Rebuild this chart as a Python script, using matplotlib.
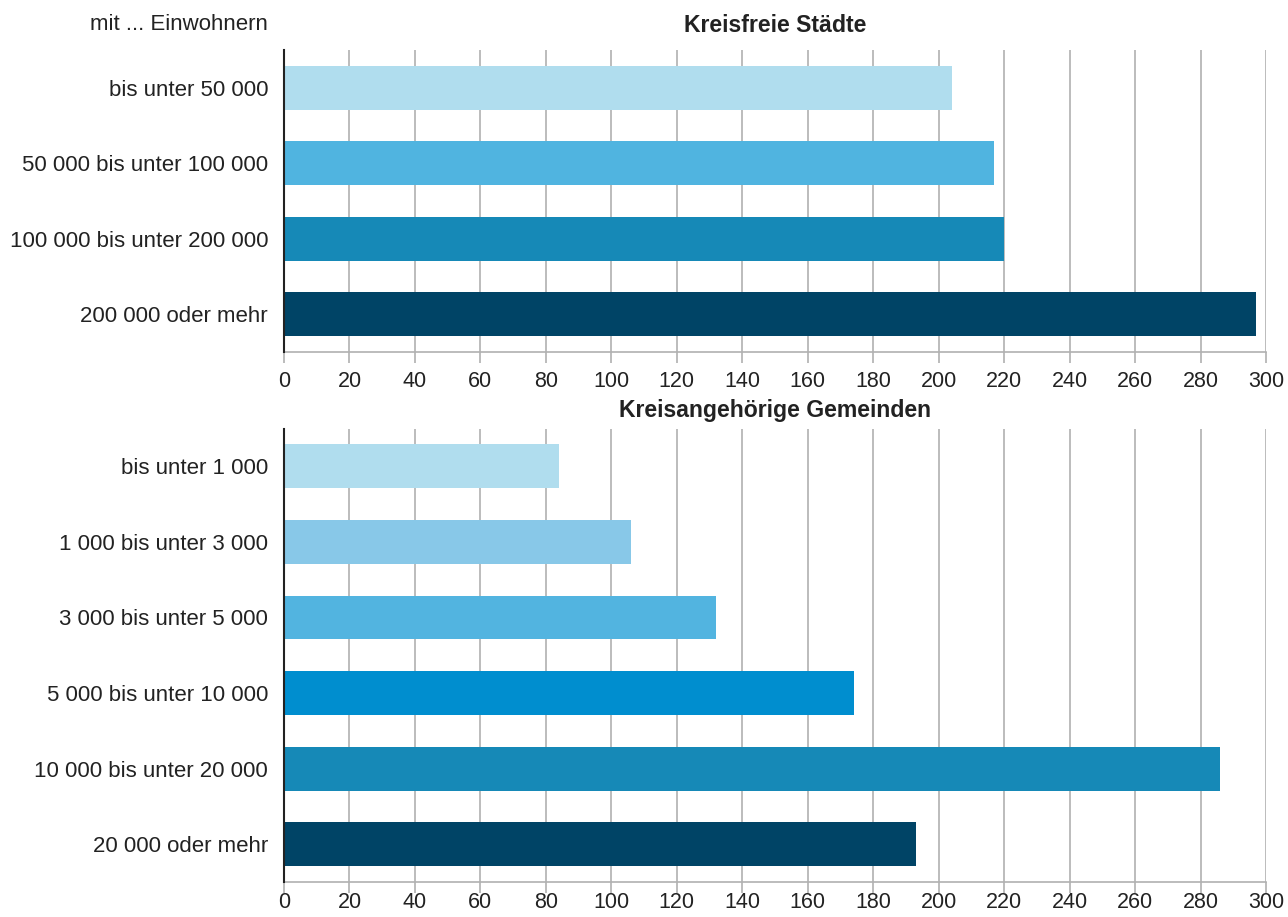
import matplotlib
matplotlib.use("Agg")
import matplotlib.pyplot as plt

plt.rcParams['font.family'] = ['Liberation Sans', 'DejaVu Sans']

top_title = "Kreisfreie Städte"
top_categories = ["bis unter 50 000", "50 000 bis unter 100 000",
                  "100 000 bis unter 200 000", "200 000 oder mehr"]
top_values = [204, 217, 220, 297]
top_colors = ["#b0ddee", "#50b4e0", "#1689b7", "#004466"]

bot_title = "Kreisangehörige Gemeinden"
bot_categories = ["bis unter 1 000", "1 000 bis unter 3 000", "3 000 bis unter 5 000",
                  "5 000 bis unter 10 000", "10 000 bis unter 20 000", "20 000 oder mehr"]
bot_values = [84, 106, 132, 174, 286, 193]
bot_colors = ["#b0ddee", "#88c8e8", "#52b4e0", "#008ecf", "#1689b7", "#004466"]

x_ticks = list(range(0, 301, 20))

W, H = 1288, 917
fig = plt.figure(figsize=(W / 100, H / 100), dpi=100)
left = 284 / W
width = (1266 - 284) / W
ax1 = fig.add_axes([left, 1 - 352 / H, width, (352 - 50) / H])
ax2 = fig.add_axes([left, 1 - 882 / H, width, (882 - 428.5) / H])

FS = 16
TFS = 15.5

def style(ax, cats, vals, cols, xpad):
    y = list(range(len(cats)))
    ax.barh(y, vals, height=0.58, color=cols, zorder=2)
    ax.set_ylim(len(cats) - 0.5, -0.5)
    ax.set_xlim(0, 300)
    ax.set_yticks(y)
    ax.set_yticklabels(cats, fontsize=FS, color="#222222")
    ax.set_xticks(x_ticks)
    ax.set_xticklabels([str(t) for t in x_ticks], fontsize=TFS, color="#222222")
    ax.tick_params(axis='y', length=0, pad=11.5)
    ax.tick_params(axis='x', length=8, width=1.2, color="#b0b0b0", pad=xpad)
    ax.grid(axis='x', color="#b0b0b0", linewidth=1.2, zorder=0)
    ax.set_axisbelow(True)
    for s in ['top', 'right']:
        ax.spines[s].set_visible(False)
    ax.spines['bottom'].set_color("#b0b0b0")
    ax.spines['bottom'].set_linewidth(1.2)
    ax.spines['left'].set_color("#222222")
    ax.spines['left'].set_linewidth(1.5)
    ax.spines['left'].set_zorder(3)

style(ax1, top_categories, top_values, top_colors, 6)
style(ax2, bot_categories, bot_values, bot_colors, -0.5)

cx = (284 + 1266) / 2 / W
fig.text(cx, 1 - 25 / H, top_title, ha='center', va='center',
         fontsize=16.6, fontweight='bold', color="#222222")
fig.text(cx, 1 - 410 / H, bot_title, ha='center', va='center',
         fontsize=16.6, fontweight='bold', color="#222222")

fig.text(268 / W, 1 - 25 / H, "mit ... Einwohnern", ha='right', va='center',
         fontsize=FS, color="#222222")

fig.savefig("out.png", dpi=100)
